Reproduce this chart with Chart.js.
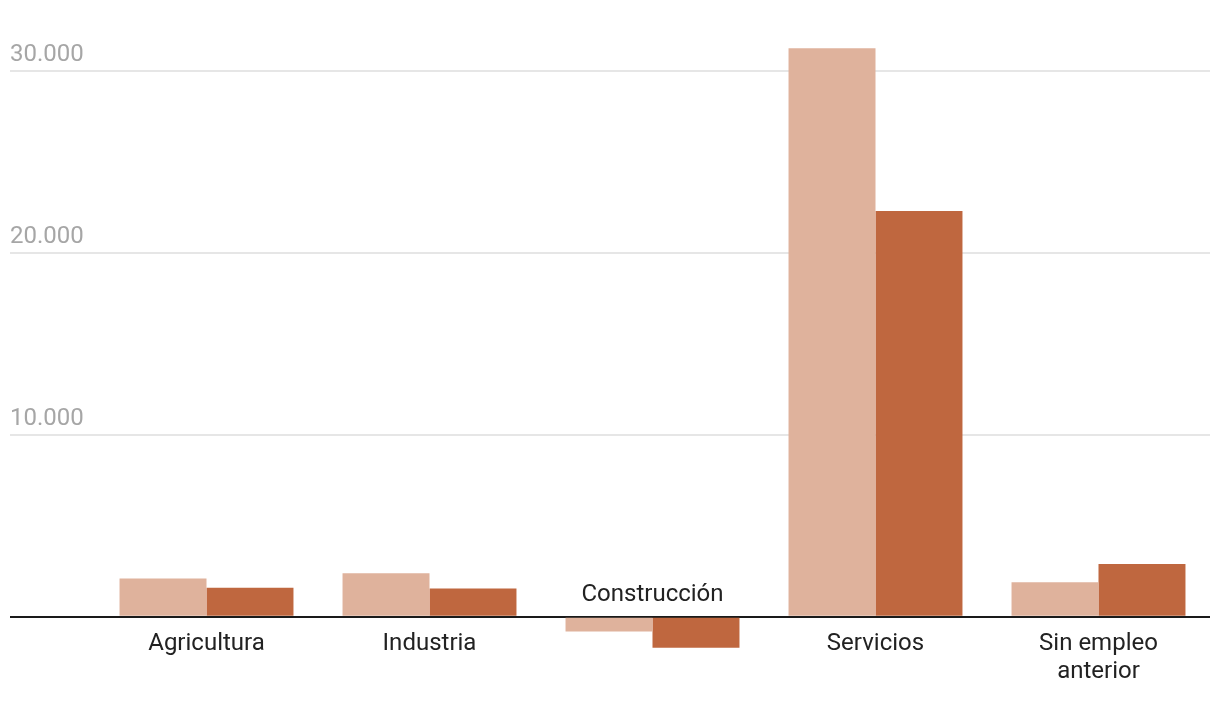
<!DOCTYPE html>
<html>
<head>
<meta charset="utf-8">
<script src="https://cdn.jsdelivr.net/npm/chart.js@4/dist/chart.umd.min.js"></script>
<style>
  html, body { margin: 0; padding: 0; background: #ffffff; }
  #wrap { position: relative; width: 1220px; height: 704px; }
</style>
</head>
<body>
<div id="wrap"><canvas id="c"></canvas></div>
<script>
const CATEGORIES = ['Agricultura', 'Industria', 'Construcción', 'Servicios', ['Sin empleo', 'anterior']];
const SERIES_A = [2100, 2400, -800, 31250, 1900];
const SERIES_B = [1600, 1550, -1700, 22300, 2900];
const Y_TICKS = [0, 10000, 20000, 30000];

function fmt(v) {
  return String(v).replace(/\B(?=(\d{3})+(?!\d))/g, '.');
}
function isNegCat(i) {
  return SERIES_A[i] < 0 && SERIES_B[i] < 0;
}

Chart.defaults.font.family = 'Roboto';

new Chart(document.getElementById('c'), {
  type: 'bar',
  data: {
    labels: CATEGORIES,
    datasets: [
      { label: 'A', data: SERIES_A, backgroundColor: '#dfb29c', borderWidth: 0 },
      { label: 'B', data: SERIES_B, backgroundColor: '#bf673f', borderWidth: 0 }
    ]
  },
  options: {
    responsive: true,
    maintainAspectRatio: false,
    animation: false,
    layout: { padding: { left: 10, right: 10, top: 16.4, bottom: 14.2 } },
    plugins: { legend: { display: false }, tooltip: { enabled: false } },
    datasets: { bar: { barPercentage: 1, categoryPercentage: 0.78 } },
    scales: {
      y: {
        position: 'left',
        min: -4000,
        max: 33000,
        afterBuildTicks: s => { s.ticks = Y_TICKS.map(v => ({ value: v })); },
        afterFit: s => { s.width = 85; },
        border: { display: false },
        grid: {
          drawTicks: true,
          tickLength: 85,
          lineWidth: 2,
          color: ctx => ctx.tick && ctx.tick.value === 0 ? '#1a1a1a' : '#e6e6e6',
          tickColor: ctx => ctx.tick && ctx.tick.value === 0 ? '#1a1a1a' : '#e6e6e6',
          tickWidth: 2,
          z: 0
        },
        ticks: {
          crossAlign: 'far',
          labelOffset: -16,
          padding: 0,
          color: '#a6a6a6',
          font: { size: 24 },
          callback: v => v === 0 ? '' : fmt(v)
        }
      },
      x: {
        type: 'category',
        position: { y: 0 },
        offset: true,
        border: { display: false },
        grid: { display: false, drawTicks: false },
        ticks: {
          maxRotation: 0,
          autoSkip: false,
          padding: 13,
          color: '#222222',
          font: { size: 24, lineHeight: 1.167 },
          callback: function (v, i) { return isNegCat(i) ? '' : CATEGORIES[i]; }
        }
      },
      x2: {
        type: 'category',
        position: { y: 0 },
        offset: true,
        border: { display: false },
        grid: { display: false, drawTicks: false },
        ticks: {
          maxRotation: 0,
          autoSkip: false,
          padding: -36,
          color: '#222222',
          font: { size: 24, lineHeight: 1.167 },
          callback: function (v, i) { return isNegCat(i) ? CATEGORIES[i] : ''; }
        }
      }
    }
  }
});
</script>
</body>
</html>
